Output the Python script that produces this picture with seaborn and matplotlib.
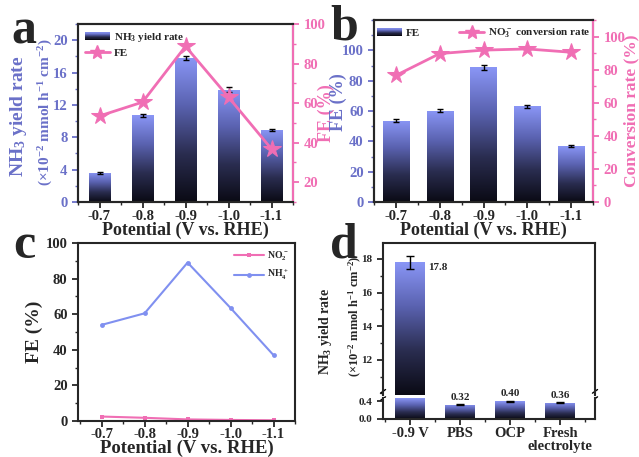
import numpy as np
import pandas as pd
import seaborn as sns
import matplotlib.pyplot as plt
from matplotlib.colors import LinearSegmentedColormap
from matplotlib.legend_handler import HandlerBase
from matplotlib.patches import Rectangle, Patch
from matplotlib.lines import Line2D
from matplotlib.ticker import MultipleLocator

# ---- data ----
potentials = ['-0.7', '-0.8', '-0.9', '-1.0', '-1.1']
potential_values = [-0.7, -0.8, -0.9, -1.0, -1.1]

yield_rate = [3.6, 10.7, 17.8, 13.9, 8.9]
yield_err = [0.1, 0.2, 0.3, 0.3, 0.15]
fe_a = [53.5, 60.5, 88.7, 63.0, 36.8]

fe_b = [53.5, 60.3, 88.7, 63.0, 36.8]
fe_b_err = [1.0, 1.2, 1.5, 1.2, 0.8]
conversion = [76.5, 89.7, 91.8, 92.5, 90.5]

fe_no2 = [2.5, 1.8, 0.9, 0.6, 0.4]
fe_nh4 = [54.0, 60.5, 89.0, 63.5, 37.0]

controls = ['-0.9 V', 'PBS', 'OCP', 'Fresh\nelectrolyte']
control_yield = [17.8, 0.32, 0.40, 0.36]
control_err = [0.4, 0.01, 0.01, 0.01]
control_text = ['17.8', '0.32', '0.40', '0.36']

PINK = '#f06eb4'
BLUE = '#6a70c8'
LINE_BLUE = '#8090f0'

sns.set_style('ticks')
plt.rcParams['font.family'] = ['Liberation Serif', 'DejaVu Serif']
plt.rcParams['font.weight'] = 'bold'
plt.rcParams['axes.labelweight'] = 'bold'
plt.rcParams['mathtext.default'] = 'regular'
plt.rcParams['axes.unicode_minus'] = False
plt.rcParams['axes.linewidth'] = 1.5
plt.rcParams['xtick.direction'] = 'out'
plt.rcParams['ytick.direction'] = 'out'
plt.rcParams['xtick.major.width'] = 1.3
plt.rcParams['ytick.major.width'] = 1.3
plt.rcParams['xtick.minor.width'] = 1.0
plt.rcParams['ytick.minor.width'] = 1.0
plt.rcParams['xtick.major.size'] = 4
plt.rcParams['ytick.major.size'] = 4
plt.rcParams['xtick.minor.size'] = 2
plt.rcParams['ytick.minor.size'] = 2

bar_cmap = LinearSegmentedColormap.from_list(
    'bar', ['#0a0a14', '#2a2d50', '#5a62b0', '#8a96f6'])


class GradientHandler(HandlerBase):
    def create_artists(self, legend, orig_handle, xdescent, ydescent,
                       width, height, fontsize, trans):
        n = 14
        arts = []
        for i in range(n):
            r = Rectangle((-xdescent, -ydescent + height * i / n), width,
                          height / n * 1.05, facecolor=bar_cmap(i / (n - 1)),
                          edgecolor='none', transform=trans)
            arts.append(r)
        return arts


def gradient_bars(ax):
    lo, hi = ax.get_ylim()
    grad = np.linspace(0, 1, 256).reshape(-1, 1)
    for p in ax.patches:
        x, w, h = p.get_x(), p.get_width(), p.get_height()
        y0, y1 = max(0, lo), min(h, hi)
        if y1 <= y0:
            continue
        p.set_facecolor('none')
        p.set_edgecolor('none')
        im = ax.imshow(grad, extent=[x, x + w, y0, y1], origin='lower',
                       aspect='auto', cmap=bar_cmap, zorder=1.5)
        im.set_clip_path(p)
    ax.set_ylim(lo, hi)


W, H = 639, 457
fig = plt.figure(figsize=(W / 100, H / 100), dpi=100)


def box(l, t, r, b):
    return [l / W, (H - b) / H, (r - l) / W, (b - t) / H]


# ---------------- panel a ----------------
ax_a = fig.add_axes(box(78, 24, 293, 202))
sns.barplot(x=potentials, y=yield_rate, ax=ax_a, width=0.5, color=LINE_BLUE,
            errorbar=None, zorder=1)
ax_a.errorbar(np.arange(len(potentials)), yield_rate, yerr=yield_err,
              fmt='none', ecolor='black', elinewidth=1, capsize=2, zorder=3)
ax_a.set_xlim(-0.5, 4.5)
ax_a.set_ylim(0, 22)
gradient_bars(ax_a)
ax_a.set_yticks([0, 4, 8, 12, 16, 20])
ax_a.yaxis.set_minor_locator(MultipleLocator(2))
ax_a.xaxis.set_minor_locator(MultipleLocator(0.5))
ax_a.tick_params(axis='y', which='both', colors=BLUE, labelsize=10.5)
ax_a.tick_params(axis='x', labelsize=10.5, pad=2)
ax_a.set_xlabel('Potential (V vs. RHE)', fontsize=13, labelpad=-1)
ax_a.set_ylabel('')
ax_a2 = ax_a.twinx()
sns.lineplot(x=np.arange(len(potentials)), y=fe_a, ax=ax_a2, color=PINK,
             marker='*', markersize=13, markeredgecolor=PINK, linewidth=2)
ax_a2.set_ylim(10, 100)
ax_a2.set_yticks([20, 40, 60, 80, 100])
ax_a2.yaxis.set_minor_locator(MultipleLocator(10))
ax_a2.tick_params(axis='y', which='both', colors=PINK, labelsize=10.5)
ax_a2.spines['right'].set_color(PINK)
ax_a2.spines['right'].set_linewidth(1.5)
ax_a2.set_ylabel('FE (%)', color=PINK, fontsize=13)
ax_a2.yaxis.set_label_coords((318 - 78) / 215, 0.5)
fig.text(19 / W, 1 - 116 / H, 'NH$_3$ yield rate', rotation=90, color=BLUE,
         fontsize=14, fontweight='bold', ha='center', va='center')
fig.text(46 / W, 1 - 112 / H, '(×10$^{-2}$ mmol h$^{-1}$ cm$^{-2}$)',
         rotation=90, color=BLUE, fontsize=11, fontweight='bold',
         ha='center', va='center')
ax_a2.legend(
    [Patch(), Line2D([], [], color=PINK, marker='*', markersize=10, lw=2)],
    ['NH$_3$ yield rate', 'FE'], loc='upper left', frameon=False,
    fontsize=8, handlelength=2.3, handletextpad=0.3, borderaxespad=0.2,
    labelspacing=0.4, handler_map={Patch: GradientHandler()})
fig.text(24 / W, 1 - 32 / H, 'a', fontsize=36, fontweight='bold',
         ha='center', va='center')

# ---------------- panel b ----------------
ax_b = fig.add_axes(box(374, 20, 593, 202))
sns.barplot(x=potentials, y=fe_b, ax=ax_b, width=0.6, color=LINE_BLUE,
            errorbar=None, zorder=1)
ax_b.errorbar(np.arange(len(potentials)), fe_b, yerr=fe_b_err, fmt='none',
              ecolor='black', elinewidth=1, capsize=2, zorder=3)
ax_b.set_xlim(-0.5, 4.5)
ax_b.set_ylim(0, 120)
gradient_bars(ax_b)
ax_b.set_yticks([0, 20, 40, 60, 80, 100])
ax_b.yaxis.set_minor_locator(MultipleLocator(10))
ax_b.xaxis.set_minor_locator(MultipleLocator(0.5))
ax_b.tick_params(axis='y', which='both', colors=BLUE, labelsize=10.5)
ax_b.tick_params(axis='x', labelsize=10.5, pad=2)
ax_b.set_xlabel('Potential (V vs. RHE)', fontsize=13, labelpad=-1)
ax_b.set_ylabel('FE (%)', color=BLUE, fontsize=13)
ax_b.yaxis.set_label_coords((347 - 374) / 219, 0.55)
ax_b2 = ax_b.twinx()
sns.lineplot(x=np.arange(len(potentials)), y=conversion, ax=ax_b2,
             color=PINK, marker='*', markersize=13, markeredgecolor=PINK,
             linewidth=2)
ax_b2.set_ylim(0, 110)
ax_b2.set_yticks([0, 20, 40, 60, 80, 100])
ax_b2.yaxis.set_minor_locator(MultipleLocator(10))
ax_b2.tick_params(axis='y', which='both', colors=PINK, labelsize=10.5)
ax_b2.spines['right'].set_color(PINK)
ax_b2.spines['right'].set_linewidth(1.5)
ax_b2.set_ylabel('Conversion rate (%)', color=PINK, fontsize=12.5)
ax_b2.yaxis.set_label_coords((623 - 374) / 219, 0.5)
ax_b2.legend(
    [Patch(), Line2D([], [], color=PINK, marker='*', markersize=10, lw=2)],
    ['FE', 'NO$_3^-$ conversion rate'], loc='upper center', ncol=2,
    frameon=False, fontsize=8, handlelength=2.3, handletextpad=0.3,
    columnspacing=3.5, borderaxespad=0.2,
    handler_map={Patch: GradientHandler()})
fig.text(344 / W, 1 - 27 / H, 'b', fontsize=36, fontweight='bold',
         ha='center', va='center')

# ---------------- panel c ----------------
ax_c = fig.add_axes(box(78, 243, 295, 421))
df_c = pd.DataFrame({'Potential': potential_values * 2,
                     'FE': fe_no2 + fe_nh4,
                     'Species': ['NO$_2^-$'] * 5 + ['NH$_4^+$'] * 5})
sns.lineplot(data=df_c, x='Potential', y='FE', hue='Species', style='Species',
             markers={'NO$_2^-$': 's', 'NH$_4^+$': 'o'}, dashes=False,
             palette={'NO$_2^-$': PINK, 'NH$_4^+$': LINE_BLUE},
             markersize=3.5, markeredgewidth=0, linewidth=1.5, ax=ax_c)
ax_c.set_xlim(-0.645, -1.15)
ax_c.set_ylim(0, 100)
ax_c.set_xticks(potential_values)
ax_c.set_xticklabels(potentials)
ax_c.xaxis.set_minor_locator(MultipleLocator(0.05))
ax_c.yaxis.set_minor_locator(MultipleLocator(10))
ax_c.tick_params(labelsize=10.5)
ax_c.tick_params(axis='x', pad=1)
ax_c.set_xlabel('Potential (V vs. RHE)', fontsize=13.5, labelpad=-1)
ax_c.set_ylabel('FE (%)', fontsize=14, labelpad=2)
ax_c.legend(title=None, loc='upper right', frameon=False, fontsize=7,
            handlelength=3, handletextpad=0.3, borderaxespad=0.3)
fig.text(24 / W, 1 - 246 / H, 'c', fontsize=36, fontweight='bold',
         ha='center', va='center')

# ---------------- panel d (broken axis) ----------------
ax_du = fig.add_axes(box(383, 243, 595, 395))
ax_dl = fig.add_axes(box(383, 398, 595, 419))
for ax in (ax_du, ax_dl):
    sns.barplot(x=controls, y=control_yield, ax=ax, width=0.6,
                color=LINE_BLUE, errorbar=None, zorder=1)
    ax.errorbar(np.arange(len(controls)), control_yield, yerr=control_err,
                fmt='none', ecolor='black', elinewidth=1, capsize=3, zorder=3)
    ax.set_xlim(-0.55, 3.7)
    ax.set_ylabel('')
ax_du.set_ylim(9.9, 18.95)
ax_dl.set_ylim(0, 0.47)
gradient_bars(ax_du)
gradient_bars(ax_dl)
ax_du.set_yticks([12, 14, 16, 18])
ax_du.yaxis.set_minor_locator(MultipleLocator(1))
ax_dl.set_yticks([0.0, 0.4])
ax_dl.set_yticklabels(['0.0', '0.4'])
ax_du.spines['bottom'].set_visible(False)
ax_dl.spines['top'].set_visible(False)
ax_du.tick_params(axis='x', which='both', bottom=False, labelbottom=False)
ax_du.tick_params(axis='y', labelsize=8)
ax_dl.tick_params(axis='y', labelsize=8)
ax_dl.tick_params(axis='x', labelsize=10.5, pad=2)
ax_dl.xaxis.set_minor_locator(MultipleLocator(0.5))
ax_dl.set_xticks(range(len(controls)))
ax_dl.set_xticklabels(controls, linespacing=0.95)
# break marks
for xx in (0, 1):
    for dy in (-0.006, 0.006):
        ax_du.plot([xx - 0.012, xx + 0.012],
                   [-0.012 + dy * 4, 0.012 + dy * 4],
                   transform=ax_du.transAxes, color='black', lw=1,
                   clip_on=False)
# value labels
ax_du.annotate(control_text[0], (0.3, control_yield[0]), xytext=(2, -4),
               textcoords='offset points', fontsize=8, fontweight='bold',
               va='center', ha='left')
for i in range(1, len(controls)):
    ax_dl.annotate(control_text[i], (i, control_yield[i]), xytext=(0, 2),
                   textcoords='offset points', fontsize=8, fontweight='bold',
                   ha='center', va='bottom', annotation_clip=False)
fig.text(325 / W, 1 - 331 / H, 'NH$_3$ yield rate', rotation=90,
         fontsize=10, fontweight='bold', ha='center', va='center')
fig.text(355 / W, 1 - 316 / H, '(×10$^{-2}$ mmol h$^{-1}$ cm$^{-2}$)',
         rotation=90, fontsize=9, fontweight='bold', ha='center', va='center')
fig.text(344 / W, 1 - 246 / H, 'd', fontsize=36, fontweight='bold',
         ha='center', va='center')

fig.savefig('out.png', dpi=100)
